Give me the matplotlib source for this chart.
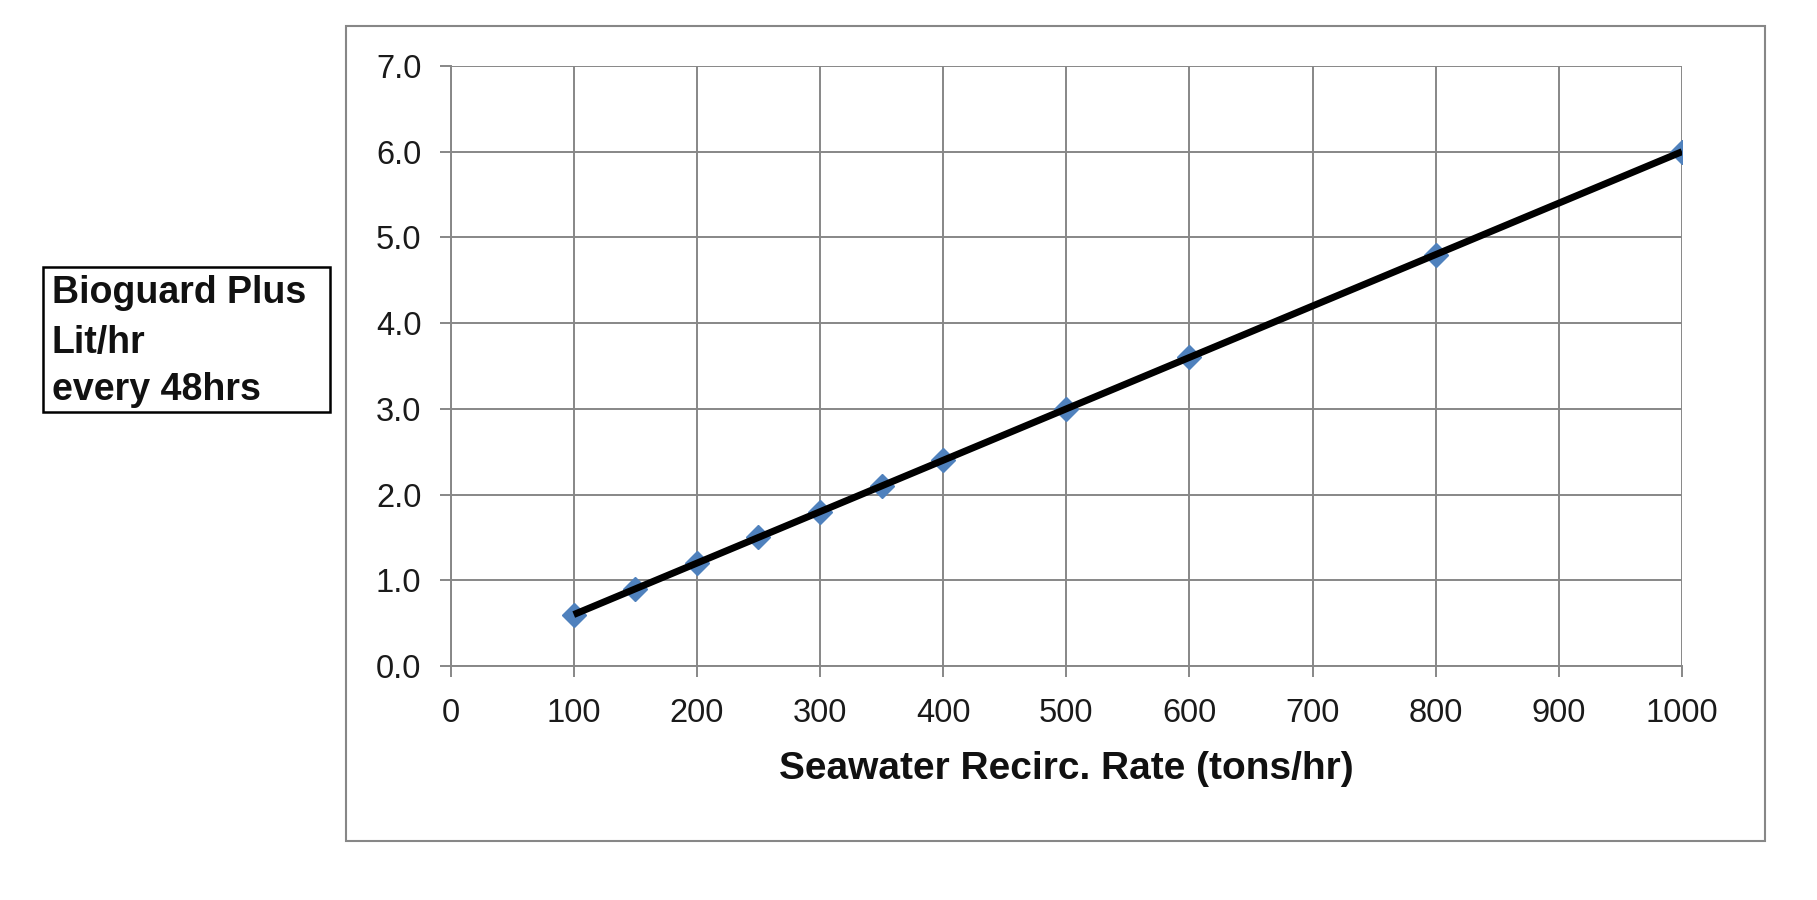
import matplotlib
matplotlib.use('Agg')
import matplotlib.pyplot as plt
from matplotlib.patches import Rectangle

# dosing table: recirculation rate vs. Bioguard Plus dose
rate = [100, 150, 200, 250, 300, 350, 400, 500, 600, 800, 1000]
dose = [0.6, 0.9, 1.2, 1.5, 1.8, 2.1, 2.4, 3.0, 3.6, 4.8, 6.0]
x_ticks = [0, 100, 200, 300, 400, 500, 600, 700, 800, 900, 1000]
y_ticks = [0.0, 1.0, 2.0, 3.0, 4.0, 5.0, 6.0, 7.0]
box_lines = ['Bioguard Plus', 'Lit/hr', 'every 48hrs']

plt.rcParams['font.family'] = ['Liberation Sans', 'DejaVu Sans']
grid_col = '#878787'

fig = plt.figure(figsize=(18.17, 9.0), dpi=100)

# outer chart frame
fig.patches.append(Rectangle((0.1904, 0.0656), 0.781, 0.9056, transform=fig.transFigure,
                             fill=False, edgecolor=grid_col, linewidth=1.5, zorder=0))

ax = fig.add_axes([0.248, 0.26, 0.6777, 0.6667])
ax.plot(rate, dose, linestyle='none', marker='D', markersize=12,
        color='#4F81BD', zorder=3)
# linear trend line over the data
ax.plot([rate[0], rate[-1]], [dose[0], dose[-1]], color='black', linewidth=5,
        solid_capstyle='butt', zorder=4)

ax.set_xlim(0, 1000)
ax.set_ylim(0, 7)
ax.set_xticks(x_ticks)
ax.set_yticks(y_ticks)
ax.set_yticklabels(['%.1f' % v for v in y_ticks])
ax.grid(True, color=grid_col, linewidth=1.4)
ax.set_axisbelow(True)
for side in ['top', 'right']:
    ax.spines[side].set_visible(False)
for side in ['left', 'bottom']:
    ax.spines[side].set_color(grid_col)
    ax.spines[side].set_linewidth(1.4)
ax.tick_params(axis='both', direction='out', length=8, width=1.4, color=grid_col,
               labelsize=23.5, labelcolor='#1a1a1a')
ax.tick_params(axis='y', pad=13)
ax.tick_params(axis='x', pad=15)
ax.set_xlabel('Seawater Recirc. Rate (tons/hr)', fontsize=28, fontweight='bold',
              labelpad=16, color='#111111')

# y label box on the left
fig.patches.append(Rectangle((0.0237, 0.542), 0.158, 0.161, transform=fig.transFigure,
                             fill=False, edgecolor='black', linewidth=1.8))
for txt, yb in zip(box_lines, [0.6633, 0.6078, 0.5556]):
    fig.text(0.0286, yb, txt, fontsize=27, fontweight='bold', va='baseline',
             ha='left', color='#111111')

fig.savefig('out.png', dpi=100, facecolor='white')
